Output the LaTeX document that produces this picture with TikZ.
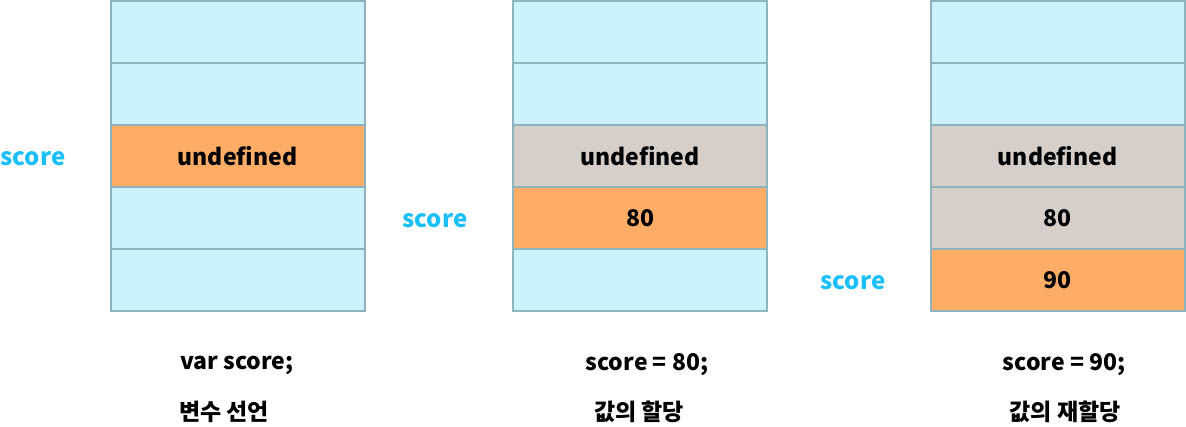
\documentclass[tikz,border=0pt]{standalone}
\usepackage{fontspec}
\setmainfont{Noto Sans CJK KR}
\usepackage{tikz}
\usetikzlibrary{positioning}

\definecolor{cellblue}{HTML}{CCF0FC}
\definecolor{cellorange}{HTML}{FFAD66}
\definecolor{cellgray}{HTML}{D6CFC9}
\definecolor{cellline}{HTML}{8DB4BC}
\definecolor{varblue}{HTML}{1ABFFF}

\tikzset{
  cell/.style={draw=cellline,line width=2pt,fill=cellblue,minimum width=254pt,
               minimum height=62pt,inner sep=0pt,font=\fontsize{23}{26}\selectfont\bfseries},
  active/.style={cell,fill=cellorange},
  old/.style={cell,fill=cellgray},
  varname/.style={text=varblue,font=\fontsize{24}{27}\selectfont\bfseries},
  caption/.style={font=\fontsize{23}{26}\selectfont\bfseries}
}

\begin{document}
\begin{tikzpicture}[x=1pt,y=-1pt]
  \useasboundingbox (0,0) rectangle (1186,426);
  % declaration
  \node[cell]   (a1) at (237.5,32) {};
  \node[cell]   (a2) at (237.5,94) {};
  \node[active] (a3) at (237.5,156) {\raisebox{-2pt}{undefined}};
  \node[cell]   (a4) at (237.5,218) {};
  \node[cell]   (a5) at (237.5,280) {};
  \node[varname] (sa) at (33,159) {score};
  \node[caption] (ta) at (237,365) {var score;};
  \node[caption] (ka) at (224,412) {변수 선언};
  % assignment
  \node[cell]   (b1) at (640,32) {};
  \node[cell]   (b2) at (640,94) {};
  \node[old]    (b3) at (640,156) {\raisebox{-2pt}{undefined}};
  \node[active] (b4) at (640,218) {\raisebox{-2pt}{80}};
  \node[cell]   (b5) at (640,280) {};
  \node[varname] (sb) at (435,221) {score};
  \node[caption] (tb) at (647,365) {score = 80;};
  \node[caption] (kb) at (639,412) {값의 할당};
  % reassignment
  \node[cell]   (c1) at (1057.5,32) {};
  \node[cell]   (c2) at (1057.5,94) {};
  \node[old]    (c3) at (1057.5,156) {\raisebox{-2pt}{undefined}};
  \node[old]    (c4) at (1057.5,218) {\raisebox{-2pt}{80}};
  \node[active] (c5) at (1057.5,280) {\raisebox{-2pt}{90}};
  \node[varname] (sc) at (853,283) {score};
  \node[caption] (tc) at (1064,365) {score = 90;};
  \node[caption] (kc) at (1065,412) {값의 재할당};
\end{tikzpicture}
\end{document}
